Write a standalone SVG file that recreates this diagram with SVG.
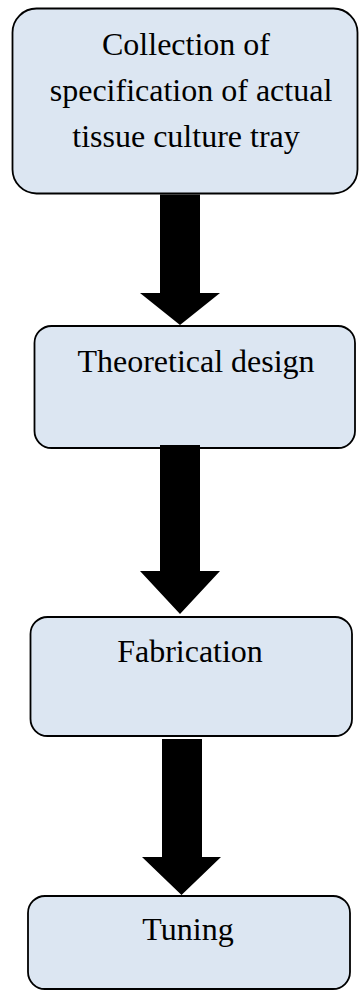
<svg xmlns="http://www.w3.org/2000/svg" width="360" height="990" viewBox="0 0 360 990">
<style>
.box{fill:#dce6f2;stroke:#000;stroke-width:1.8}
.lbl{font-family:"Liberation Serif","Times New Roman",serif;font-size:32px;fill:#000;text-anchor:middle}
.arr{fill:#000;stroke:none}
</style>
<rect width="360" height="990" fill="#fff"/>
<g id="n1">
<rect class="box" x="12.5" y="8.5" width="345" height="185" rx="24" ry="24"/>
<text class="lbl" x="186" y="55">Collection of</text>
<text class="lbl" x="191" y="101">specification of actual</text>
<text class="lbl" x="186" y="147">tissue culture tray</text>
</g>
<g id="n2">
<rect class="box" x="34.5" y="326" width="320.5" height="122" rx="17" ry="17"/>
<text class="lbl" x="196" y="372">Theoretical design</text>
</g>
<g id="n3">
<rect class="box" x="30.5" y="617" width="321.5" height="119" rx="17" ry="17"/>
<text class="lbl" x="190" y="662">Fabrication</text>
</g>
<g id="n4">
<rect class="box" x="28" y="896" width="322" height="93" rx="17" ry="17"/>
<text class="lbl" x="188" y="940">Tuning</text>
</g>
<g id="connectors">
<polygon class="arr" points="160,194.5 200,194.5 200,293 220,293 180,325 140,293 160,293"/>
<polygon class="arr" points="160,445 200,445 200,571 220,571 180,614 140,571 160,571"/>
<polygon class="arr" points="162,739 202,739 202,857 221,857 181.5,895 142,857 162,857"/>
</g>
</svg>
